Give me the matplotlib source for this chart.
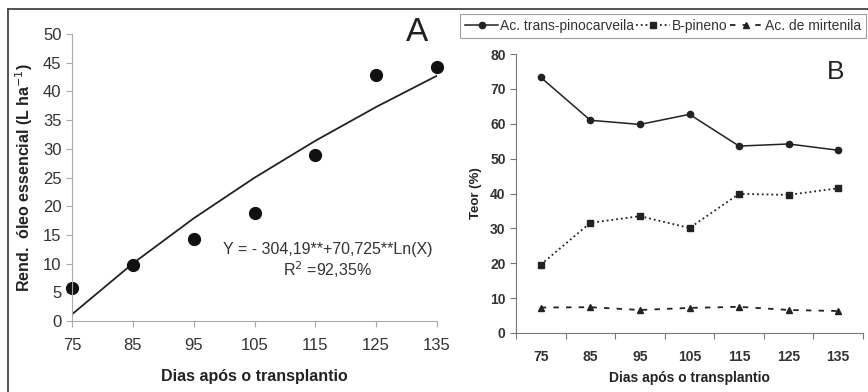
import numpy as np
import matplotlib
matplotlib.use("Agg")
import matplotlib.pyplot as plt
from matplotlib.lines import Line2D

plt.rcParams['font.family'] = ['Liberation Sans', 'DejaVu Sans']

# dados
dias = [75, 85, 95, 105, 115, 125, 135]
rendimento = [5.8, 9.7, 14.2, 18.8, 29.0, 42.8, 44.3]
# coeficientes da regressao (painel A)
coef_a = -304.19
coef_b = 70.725

trans_pinocarveila = [73.3, 61.0, 59.8, 62.7, 53.6, 54.2, 52.4]
b_pineno = [19.6, 31.6, 33.5, 30.1, 39.9, 39.6, 41.5]
mirtenila = [7.3, 7.4, 6.6, 7.2, 7.5, 6.6, 6.3]

W, H = 868, 392
fig = plt.figure(figsize=(W / 100, H / 100), dpi=100)

# ---- painel A
ax1 = fig.add_axes([72 / W, 1 - 321 / H, 365 / W, 287 / H])
x = np.array(dias, dtype=float)
ajuste = coef_a + coef_b * np.log(x)
ax1.plot(x, ajuste, color='#222222', lw=1.3)
ax1.plot(dias, rendimento, 'o', color='#111111', ms=8.5, clip_on=False)
ax1.set_xlim(75, 135)
ax1.set_ylim(0, 50)
ax1.set_xticks(dias)
ax1.set_yticks(range(0, 51, 5))
for s in ['top', 'right']:
    ax1.spines[s].set_visible(False)
for s in ['left', 'bottom']:
    ax1.spines[s].set_color('#aaaaaa')
ax1.tick_params(colors='#aaaaaa', labelcolor='#333333', labelsize=12, length=4)
ax1.tick_params(axis='x', pad=8)
ax1.set_xlabel('Dias após o transplantio', fontsize=11.5, fontweight='bold', color='#222222', labelpad=12)
ax1.set_ylabel('Rend.  óleo essencial (L ha$^{-1}$)', fontsize=11.5, fontweight='bold', color='#222222', labelpad=6)
ax1.text(117, 12.4, 'Y = - 304,19**+70,725**Ln(X)', fontsize=11.5, color='#333333', ha='center', va='center')
ax1.text(117, 8.9, 'R$^2$ =92,35%', fontsize=11.5, color='#333333', ha='center', va='center')
ax1.text(131.7, 50.3, 'A', fontsize=24, color='#222222', ha='center', va='center')

# ---- painel B
ax2 = fig.add_axes([516 / W, 1 - 333 / H, 347 / W, 279 / H])
ax2.plot(dias, trans_pinocarveila, '-o', color='#222222', lw=1.1, ms=4.5, label='Ac. trans-pinocarveila')
ax2.plot(dias, b_pineno, ':s', color='#222222', lw=1.3, ms=4.5, label='B-pineno')
ax2.plot(dias, mirtenila, '--^', color='#222222', lw=1.3, ms=4.5, dashes=(3, 4), label='Ac. de mirtenila')
ax2.set_xlim(70, 140)
ax2.set_ylim(0, 80)
ax2.set_xticks(range(70, 141, 10))
ax2.set_xticks(dias, minor=True)
ax2.set_xticklabels([])
ax2.set_xticklabels([str(d) for d in dias], minor=True)
ax2.tick_params(axis='x', which='minor', length=0, pad=12)
ax2.tick_params(axis='x', which='major', length=4, colors='#777777')
ax2.set_yticks(range(0, 81, 10))
for s in ['top', 'right']:
    ax2.spines[s].set_visible(False)
for s in ['left', 'bottom']:
    ax2.spines[s].set_color('#777777')
ax2.tick_params(axis='y', colors='#777777', length=4)
for lab in ax2.get_xticklabels(minor=True) + ax2.get_yticklabels():
    lab.set_fontsize(10)
    lab.set_fontweight('bold')
    lab.set_color('#333333')
ax2.set_xlabel('Dias após o transplantio', fontsize=10, fontweight='bold', color='#222222', labelpad=5)
ax2.set_ylabel('Teor (%)', fontsize=9.5, fontweight='bold', color='#222222', labelpad=6)
ax2.text(134.4, 74.8, 'B', fontsize=19, color='#222222', ha='center', va='center')

leg = fig.legend(loc='upper right', bbox_to_anchor=(866 / W, 1 - 14 / H), ncol=3,
                 frameon=True, fancybox=False, edgecolor='#888888', fontsize=10,
                 handlelength=2.4, columnspacing=0.15, handletextpad=0.15,
                 borderpad=0.35, borderaxespad=0)
leg.get_frame().set_linewidth(0.8)
for t in leg.get_texts():
    t.set_color('#333333')

# moldura
fig.add_artist(Line2D([8 / W, 8 / W], [0, 1 - 9 / H], color='#444444', lw=1.3))
fig.add_artist(Line2D([8 / W, 1], [1 - 9 / H, 1 - 9 / H], color='#444444', lw=1.3))

fig.savefig('out.png', dpi=100)
